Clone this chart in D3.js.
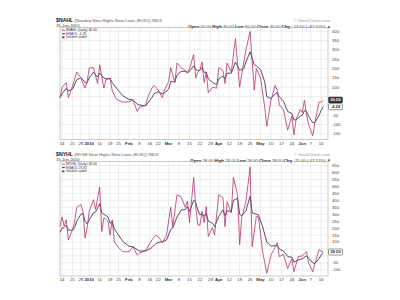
<!DOCTYPE html>
<html>
<head>
<meta charset="utf-8">
<script src="https://cdn.jsdelivr.net/npm/d3@7"></script>
<style>
body { margin: 0; background: #fff; }
svg { display: block; font-family: "Liberation Sans", Arial, sans-serif; }
</style>
</head>
<body>
<div id="chart"></div>
<script>
// x axis: trading-day index counted from 14-Dec-2009
const tickDay = [0, 5, 9, 13, 18, 23, 27, 32, 37, 42, 46, 51, 56, 61, 66, 71, 75, 80, 85, 90, 95, 100, 105, 110, 115, 119, 124];
const tickLabel = ["14", "21", "28", "2010", "11", "19", "25", "Feb", "8", "16", "22", "Mar", "8", "15", "22", "29", "Apr", "12", "19", "26", "May", "10", "17", "24", "Jun", "7", "14"];
const boldTicks = ["2010", "Feb", "Mar", "Apr", "May", "Jun"];

// $NAHL panel
const nahlDay = [-1, 0, 2, 3, 5, 7, 9, 10, 11, 12, 13, 15, 17, 18, 20, 21, 23, 24, 26, 29, 32, 34, 36, 37, 40, 41, 43, 44, 46, 48, 49, 51, 52, 54, 55, 57, 59, 60, 61, 63, 64, 65, 66, 67, 68, 69, 70, 72, 74, 75, 77, 78, 79, 81, 83, 85, 87, 88, 90, 92, 93, 95, 97, 98, 100, 102, 103, 104, 106, 108, 110, 111, 112, 114, 115, 116, 117, 118, 120, 121, 123, 124, 125];
const nahlClose = [43, 100, 125, 45, 105, 182, 150, 120, 95, 130, 203, 205, 120, 220, 95, 140, 150, 80, 35, 20, 22, 30, -30, -8, 5, 45, 95, 110, 85, 45, 85, 130, 205, 125, 230, 205, 190, 175, 200, 275, 150, 180, 195, 235, 125, 180, 70, 100, 95, 205, 190, 120, 230, 180, 360, 100, 235, 300, 398, 85, 200, 150, -5, -110, 30, 110, 85, 5, -20, -130, -55, -155, -75, -20, -35, 30, -45, -100, -160, -90, 20, 20, 30];
const nahlEma = [45, 65, 95, 80, 90, 140, 150, 140, 125, 125, 150, 180, 155, 175, 150, 145, 145, 125, 95, 55, 35, 32, 10, 5, 0, 15, 45, 65, 75, 65, 70, 90, 130, 130, 165, 185, 185, 180, 185, 215, 195, 190, 190, 205, 180, 180, 145, 125, 115, 145, 160, 145, 175, 175, 235, 190, 200, 235, 290, 220, 215, 195, 130, 50, 40, 65, 70, 50, 25, -30, -40, -75, -75, -55, -50, -25, -30, -55, -90, -90, -50, -25, -4];
const nahlTicks = [-150, -100, -50, 0, 50, 100, 150, 200, 250, 300, 350, 400];

// $NYHL panel
const nyhlDay = [-1, 0, 1, 2, 3, 5, 6, 7, 9, 10, 11, 12, 13, 15, 16, 18, 19, 20, 22, 23, 24, 25, 27, 29, 32, 34, 36, 37, 40, 43, 45, 47, 48, 50, 52, 53, 55, 57, 59, 60, 61, 63, 64, 65, 66, 67, 68, 69, 70, 72, 73, 75, 77, 78, 79, 81, 82, 84, 85, 86, 88, 90, 91, 93, 94, 96, 98, 100, 103, 104, 106, 108, 110, 111, 113, 115, 117, 118, 120, 121, 123, 124, 125];
const nyhlClose = [210, 280, 215, 260, 115, 190, 245, 350, 370, 320, 130, 200, 320, 405, 335, 495, 175, 275, 250, 150, 260, 100, 60, 30, 30, 65, 5, 20, 40, 115, 150, 120, 95, 150, 350, 210, 440, 425, 350, 395, 240, 565, 350, 225, 220, 320, 240, 355, 140, 205, 150, 440, 420, 210, 390, 310, 565, 440, 80, 275, 390, 640, 65, 285, 280, 30, -125, 5, 95, -5, 10, -90, -20, -115, -5, 0, 30, -50, -115, -60, 45, 35, 28];
const nyhlEma = [170, 200, 205, 220, 185, 185, 205, 250, 300, 305, 250, 230, 260, 310, 315, 375, 310, 300, 280, 235, 245, 195, 150, 105, 70, 65, 45, 35, 35, 60, 90, 100, 100, 115, 190, 200, 280, 330, 335, 355, 320, 400, 385, 330, 295, 305, 285, 305, 250, 235, 210, 285, 330, 290, 325, 320, 400, 415, 300, 290, 325, 430, 310, 300, 295, 210, 100, 70, 75, 50, 35, -5, -10, -45, -30, -20, 0, -15, -50, -55, -20, 5, 24];
const nyhlTicks = [-100, -50, 0, 50, 100, 150, 200, 250, 300, 350, 400, 450, 500, 550, 600, 650];

const closeColor = "#b3336f";
const emaColor = "#23234a";

const svg = d3.select("#chart").append("svg")
    .attr("width", 400)
    .attr("height", 300);

const x = d3.scaleLinear().domain([-1, 127.3]).range([60, 328]);

function drawPanel(p) {
    const y = d3.scaleLinear().domain(p.domain).range([p.bottom, p.top]);
    const g = svg.append("g");

    // header
    const t = g.append("text").attr("x", 56).attr("y", p.titleY).attr("font-size", 5.2);
    t.append("tspan").attr("font-weight", "bold").attr("fill", "#111").text(p.symbol);
    t.append("tspan").attr("fill", "#555").attr("font-size", 4.4).text(" " + p.desc);

    g.append("text").attr("x", 330).attr("y", p.titleY + 0.5)
        .attr("text-anchor", "end").attr("font-size", 4.2).attr("fill", "#999")
        .text("© StockCharts.com");

    g.append("text").attr("x", 56).attr("y", p.titleY + 5.5)
        .attr("font-size", 4.2).attr("fill", "#333").text("15-Jun-2010");

    const ohlc = g.append("text").attr("x", 331).attr("y", p.titleY + 6.5)
        .attr("text-anchor", "end").attr("font-size", 4.3).attr("fill", "#444");
    p.ohlc.forEach(function(d) {
        ohlc.append("tspan").attr("font-weight", "bold").attr("fill", "#111").text(d[0] + " ");
        ohlc.append("tspan").text(d[1] + "  ");
    });

    // grid
    g.selectAll(".hg").data(p.ticks).enter().append("line")
        .attr("x1", 60).attr("x2", 328)
        .attr("y1", d => y(d)).attr("y2", d => y(d))
        .attr("stroke", "#e2e2e2").attr("stroke-width", 0.6);
    g.selectAll(".vg").data(tickDay).enter().append("line")
        .attr("x1", d => x(d)).attr("x2", d => x(d))
        .attr("y1", p.top).attr("y2", p.bottom)
        .attr("stroke", "#e2e2e2").attr("stroke-width", 0.6);
    g.append("rect").attr("x", 60).attr("y", p.top)
        .attr("width", 268).attr("height", p.bottom - p.top)
        .attr("fill", "none").attr("stroke", "#aaa").attr("stroke-width", 0.6);

    // y labels (right), the ones under a value tag are covered
    const tagY = p.tags.map(tg => y(tg.v));
    g.selectAll(".yl").data(p.ticks.filter(d => tagY.every(ty => Math.abs(y(d) - ty) > 4.5)))
        .enter().append("text")
        .attr("x", 332).attr("y", d => y(d) + 1.5)
        .attr("font-size", 4.2).attr("fill", "#444")
        .text(d => d);

    // x labels
    g.selectAll(".xl").data(tickDay).enter().append("text")
        .attr("x", d => x(d)).attr("y", p.bottom + 5)
        .attr("text-anchor", "middle").attr("font-size", 4.3)
        .attr("font-weight", (d, i) => boldTicks.includes(tickLabel[i]) ? "bold" : "normal")
        .attr("fill", "#333")
        .text((d, i) => tickLabel[i]);

    // lines
    const line = d3.line().x(d => x(d[0])).y(d => y(d[1]));
    g.append("path").datum(d3.zip(p.day, p.ema))
        .attr("d", line).attr("fill", "none")
        .attr("stroke", emaColor).attr("stroke-width", 0.8);
    g.append("path").datum(d3.zip(p.day, p.close))
        .attr("d", line).attr("fill", "none")
        .attr("stroke", closeColor).attr("stroke-width", 0.8);

    // legend
    const lg = g.append("g").attr("font-size", 3.4).attr("fill", "#333");
    lg.append("line").attr("x1", 62).attr("x2", 65).attr("y1", p.top + 2.6).attr("y2", p.top + 2.6)
        .attr("stroke", closeColor).attr("stroke-width", 0.9);
    lg.append("text").attr("x", 66).attr("y", p.top + 3.8).text(p.symbol + " (Daily) " + p.lastClose);
    lg.append("line").attr("x1", 62).attr("x2", 65).attr("y1", p.top + 6.1).attr("y2", p.top + 6.1)
        .attr("stroke", emaColor).attr("stroke-width", 0.9);
    lg.append("text").attr("x", 66).attr("y", p.top + 7.3).attr("fill", "#3a3a7a").text("EMA(5) " + p.lastEma);
    lg.append("rect").attr("x", 62).attr("y", p.top + 8.9).attr("width", 2.5).attr("height", 1.8).attr("fill", "#555");
    lg.append("text").attr("x", 66).attr("y", p.top + 10.8).text("Volume undef");

    // value tags on the right
    p.tags.forEach(function(tg) {
        const ty = y(tg.v);
        g.append("rect").attr("x", 328.5).attr("y", ty - 3).attr("width", 14).attr("height", 6)
            .attr("rx", 1).attr("fill", tg.dark ? "#333" : "#fff").attr("stroke", "#333").attr("stroke-width", 0.5);
        g.append("text").attr("x", 335.5).attr("y", ty + 1.5).attr("text-anchor", "middle")
            .attr("font-size", 4.2).attr("font-weight", "bold").attr("fill", tg.dark ? "#fff" : "#333")
            .text(tg.label);
    });
}

drawPanel({
    symbol: "$NAHL", desc: "(Nasdaq New Highs-New Lows (EOD)) INDX",
    titleY: 21.5, top: 27.5, bottom: 139.5, domain: [-180, 420], ticks: nahlTicks,
    day: nahlDay, close: nahlClose, ema: nahlEma,
    lastClose: "30.00", lastEma: "-4.28",
    ohlc: [["Open", "30.00"], ["High", "30.00"], ["Low", "30.00"], ["Close", "30.00"], ["Chg", "+14.00 (+87.50%) ▲"]],
    tags: [{v: 32, label: "30.00", dark: true}, {v: -4.28, label: "-4.28", dark: false}]
});

drawPanel({
    symbol: "$NYHL", desc: "(NYSE New Highs-New Lows (EOD)) INDX",
    titleY: 155.5, top: 161.5, bottom: 276, domain: [-145, 680], ticks: nyhlTicks,
    day: nyhlDay, close: nyhlClose, ema: nyhlEma,
    lastClose: "28.00", lastEma: "23.82",
    ohlc: [["Open", "28.00"], ["High", "28.00"], ["Low", "28.00"], ["Close", "28.00"], ["Chg", "-25.00 (-47.17%) ▼"]],
    tags: [{v: 28, label: "28.00", dark: false}]
});
</script>
</body>
</html>
